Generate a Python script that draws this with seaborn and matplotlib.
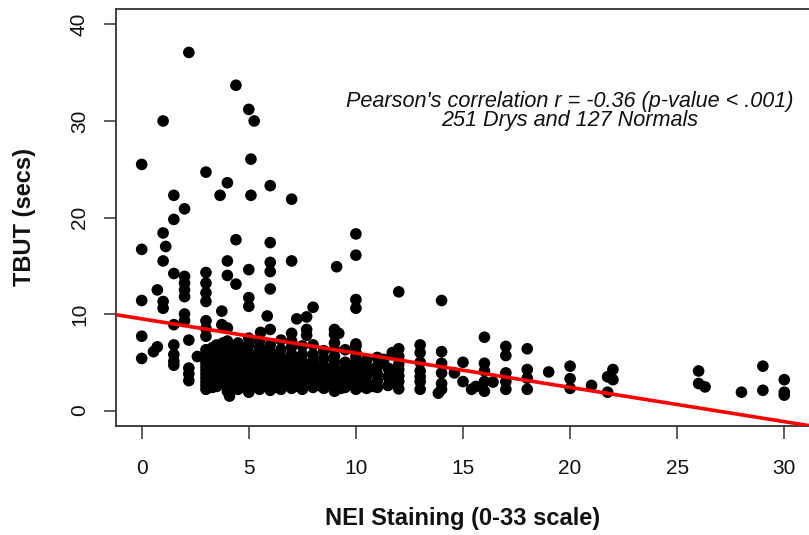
import matplotlib
matplotlib.use("Agg")
import matplotlib.pyplot as plt
import seaborn as sns
import pandas as pd

# ---- data ----
# isolated / readable points
nei_sparse = [
    0, 0, 0, 0, 0, 0.55, 0.73, 0.73, 1, 1, 1, 1, 1, 1.12,
    1.5, 1.5, 1.5, 1.5, 1.5, 1.5, 1.5, 1.5,
    2, 2, 2, 2, 2, 2, 2, 2.2, 2.2, 2.2, 2.2, 2.2, 2.6,
    3, 3, 3, 3, 3, 3, 3, 3, 3, 3, 3.66, 3.74, 3.74,
    4, 4, 4, 4, 4.1, 4.4, 4.4, 4.4,
    5, 5, 5, 5, 5, 5.1, 5.1, 5.25, 5.55, 5.86,
    6, 6, 6, 6, 6, 6, 7, 7, 7, 7.24, 7.7, 7.7, 7.7, 8, 8,
    9, 9, 9, 9, 9.1, 9.2, 9.5,
    10, 10, 10, 10, 10, 10, 10, 10.8, 10.8, 11.3, 11.7, 11.7, 11.7,
    12, 12, 12, 12, 12, 12, 12, 12,
    13, 13, 13, 13, 13, 13, 13, 13.85,
    14, 14, 14, 14, 14, 14, 14.6, 15, 15, 15.4, 15.6,
    16, 16, 16, 16, 16, 16.4, 17, 17, 17, 17, 17,
    18, 18, 18, 18, 19, 20, 20, 20, 21, 21.75, 21.75, 22, 22,
    26, 26, 26.3, 28, 29, 29, 30, 30, 30,
]
tbut_sparse = [
    25.5, 16.7, 11.4, 7.7, 5.4, 6.1, 12.5, 6.6, 30.0, 18.4, 15.5, 11.3, 10.6, 17.0,
    22.3, 19.8, 14.2, 8.9, 6.8, 5.8, 5.1, 4.7,
    20.9, 13.9, 13.2, 12.5, 11.8, 10.0, 9.3, 37.1, 7.3, 4.4, 3.8, 3.1, 5.6,
    24.7, 14.3, 13.2, 12.2, 11.3, 9.3, 8.5, 7.7, 6.3, 2.2, 22.3, 10.3, 8.9,
    23.6, 15.5, 14.0, 8.55, 1.5, 33.7, 17.7, 13.1,
    31.2, 14.6, 11.7, 10.8, 1.9, 26.05, 22.3, 30.0, 8.1, 9.8,
    23.3, 17.4, 15.35, 14.4, 12.6, 8.4, 21.9, 15.5, 8.0, 9.5, 9.7, 8.4, 7.8, 10.7, 6.8,
    8.4, 7.9, 7.0, 6.3, 14.9, 8.0, 6.3,
    18.3, 16.1, 11.5, 10.6, 6.9, 6.65, 6.0, 4.25, 2.5, 5.3, 6.0, 3.0, 4.2,
    12.3, 6.4, 5.6, 4.25, 3.0, 2.25, 3.6, 4.8,
    6.8, 6.0, 4.1, 3.0, 2.2, 3.5, 5.0, 1.8,
    11.4, 6.1, 4.9, 3.9, 2.8, 2.2, 3.9, 5.0, 3.0, 2.2, 2.5,
    7.6, 4.9, 4.1, 3.0, 2.0, 2.95, 6.65, 5.7, 3.9, 3.0, 2.2,
    6.4, 4.25, 3.35, 2.2, 4.0, 4.6, 3.3, 2.3, 2.6, 3.5, 1.9, 4.25, 3.2,
    4.1, 2.8, 2.45, 1.9, 4.6, 2.1, 3.2, 1.9, 1.6,
]

# dense cluster (estimated column by column)
nei_dense = (
    [3.0] * 9 + [3.3] * 6 + [3.5] * 11 + [3.8] * 6 + [4.0] * 13 + [4.2] * 6
    + [4.5] * 12 + [4.8] * 5 + [5.0] * 12 + [5.3] * 5 + [5.5] * 11 + [5.8] * 5
    + [6.0] * 11 + [6.3] * 5 + [6.5] * 10 + [6.8] * 4 + [7.0] * 10 + [7.3] * 4
    + [7.5] * 8 + [7.8] * 3 + [8.0] * 7 + [8.3] * 3 + [8.5] * 7 + [8.8] * 3
    + [9.0] * 7 + [9.3] * 3 + [9.5] * 5 + [9.8] * 3 + [10.0] * 7 + [10.3] * 3
    + [10.5] * 5 + [11.0] * 5 + [11.5] * 3
)
tbut_dense = [
    2.6, 3.0, 3.4, 3.8, 4.2, 4.6, 5.0, 5.4, 5.8,
    2.4, 3.2, 4.0, 4.8, 5.6, 6.5,
    2.5, 2.9, 3.3, 3.7, 4.1, 4.5, 4.9, 5.3, 5.7, 6.1, 6.8,
    3.0, 3.6, 4.4, 5.2, 6.0, 7.0,
    2.0, 2.4, 2.8, 3.2, 3.6, 4.0, 4.4, 4.8, 5.2, 5.6, 6.0, 6.4, 7.2,
    2.6, 3.4, 4.2, 5.0, 5.8, 6.6,
    2.2, 2.6, 3.0, 3.4, 3.8, 4.2, 4.6, 5.0, 5.4, 5.8, 6.2, 7.0,
    2.8, 3.6, 4.4, 5.3, 6.4,
    2.3, 2.7, 3.1, 3.5, 3.9, 4.3, 4.7, 5.1, 5.5, 6.0, 6.8, 7.5,
    2.5, 3.3, 4.1, 4.9, 5.7,
    2.2, 2.6, 3.0, 3.4, 3.8, 4.2, 4.6, 5.0, 5.6, 6.5, 7.2,
    2.9, 3.7, 4.5, 5.3, 6.2,
    2.1, 2.5, 2.9, 3.3, 3.7, 4.1, 4.5, 5.0, 5.5, 6.0, 6.8,
    2.4, 3.2, 4.0, 4.8, 5.6,
    2.2, 2.7, 3.1, 3.5, 4.0, 4.4, 4.9, 5.5, 6.3, 7.3,
    2.6, 3.4, 4.3, 5.1,
    2.3, 2.8, 3.2, 3.7, 4.2, 4.7, 5.2, 5.8, 6.6, 7.2,
    2.5, 3.4, 4.4, 5.4,
    2.2, 2.7, 3.2, 3.8, 4.4, 5.0, 5.8, 6.7,
    2.9, 3.9, 4.8,
    2.4, 2.9, 3.4, 3.9, 4.5, 5.1, 5.8,
    2.6, 3.5, 4.4,
    2.3, 2.8, 3.3, 3.9, 4.6, 5.4, 6.2,
    2.6, 3.5, 4.2,
    2.0, 2.5, 3.0, 3.6, 4.3, 5.0, 5.6,
    2.3, 3.2, 4.1,
    2.4, 2.9, 3.5, 4.2, 5.0,
    2.7, 3.6, 4.6,
    2.2, 2.7, 3.2, 3.7, 4.3, 4.9, 5.5,
    2.5, 3.4, 4.4,
    2.3, 2.9, 3.6, 4.5, 5.2,
    2.4, 3.1, 3.8, 4.6, 5.5,
    2.6, 3.5, 4.4,
]

# least-squares fit line shown in the reference
fit_intercept = 9.5
fit_slope = -0.355

x_ticks = [0, 5, 10, 15, 20, 25, 30]
y_ticks = [0, 10, 20, 30, 40]

annotation = "Pearson's correlation r = -0.36 (p-value < .001)\n251 Drys and 127 Normals"
x_label = "NEI Staining (0-33 scale)"
y_label = "TBUT (secs)"

df = pd.DataFrame({"NEI": nei_sparse + nei_dense, "TBUT": tbut_sparse + tbut_dense})

# ---- plotting ----
sns.set_theme(style="white")
plt.rcParams["font.family"] = ["Liberation Sans", "DejaVu Sans"]

W, H = 809, 535
fig = plt.figure(figsize=(W / 100, H / 100), dpi=100)
ax = fig.add_axes([116 / W, (H - 426) / H, (810 - 116) / W, (426 - 9) / H])

sns.scatterplot(data=df, x="NEI", y="TBUT", ax=ax, color="black", s=70,
                linewidth=0, edgecolor="none", zorder=3)
ax.axline((0, fit_intercept), slope=fit_slope, color="#ff0000", lw=2.6, zorder=4)

ax.set_xlim(-1.2, 31.2)
ax.set_ylim(-1.6, 41.6)
ax.set_xticks(x_ticks)
ax.set_yticks(y_ticks)
ax.set_xticklabels([str(t) for t in x_ticks])
ax.set_yticklabels([str(t) for t in y_ticks], rotation=90, va="center")

for sp in ax.spines.values():
    sp.set_visible(True)
    sp.set_color("#333333")
    sp.set_linewidth(1.3)

ax.tick_params(axis="both", which="major", direction="out", length=9, width=1.1,
               color="#333333", labelsize=15, labelcolor="#111111",
               bottom=True, left=True)
ax.tick_params(axis="x", pad=14.5)
ax.tick_params(axis="y", pad=10.5)

ax.set_xlabel(x_label, fontsize=17, fontweight="bold", color="#111111", va="center")
ax.set_ylabel(y_label, fontsize=17, fontweight="bold", color="#111111", va="center")
ax.xaxis.set_label_coords(0.5, (426 - 518) / 417)
ax.yaxis.set_label_coords((25 - 116) / 694, 0.5)

fig.text(570 / W, 1 - 111 / H, annotation, ha="center", va="center",
         fontsize=15.6, style="italic", color="#111111", linespacing=0.92)

fig.savefig("out.png", dpi=100)
